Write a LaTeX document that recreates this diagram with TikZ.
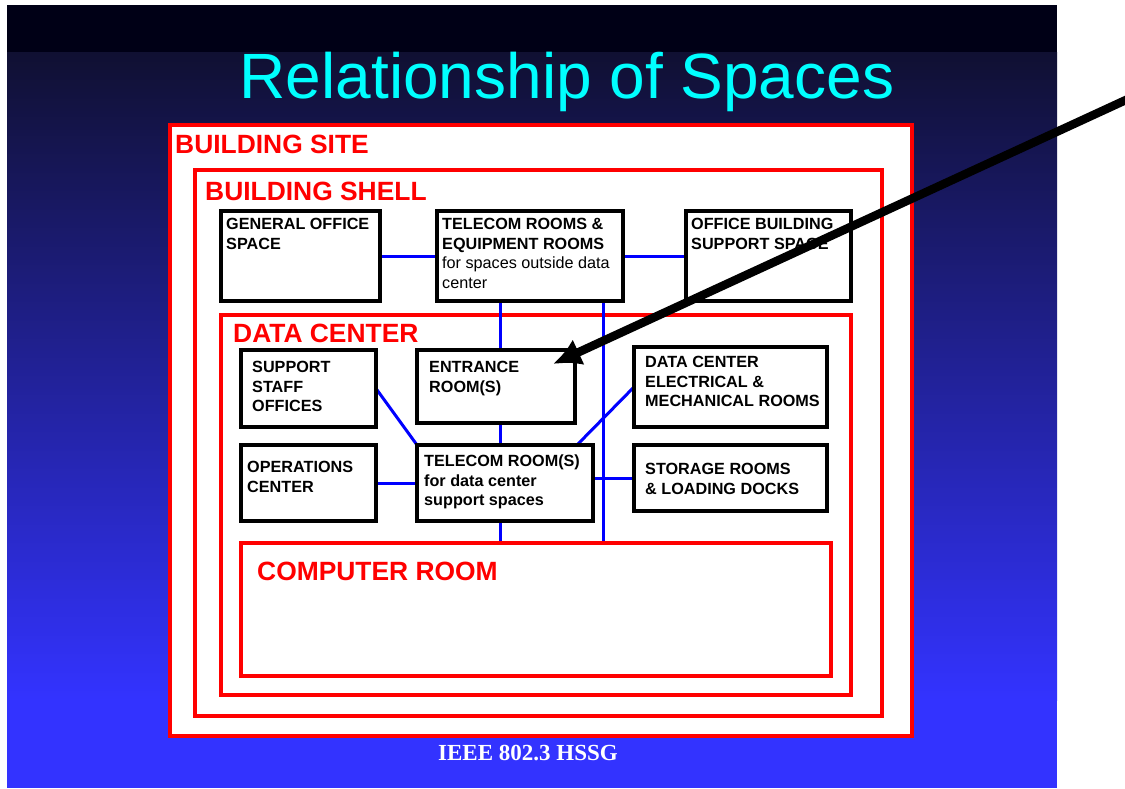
\documentclass[tikz,border=0pt]{standalone}
\usepackage{fontspec}
\setmainfont{Liberation Sans}
\newfontfamily\timesf{Liberation Serif}
\usetikzlibrary{arrows.meta,calc}
\pgfdeclarelayer{back}
\pgfdeclarelayer{mid}
\pgfsetlayers{back,mid,main}
\definecolor{topband}{RGB}{0,0,22}
\definecolor{gradtop}{RGB}{16,16,50}
\definecolor{gradmid}{RGB}{34,34,165}
\definecolor{gradbot}{RGB}{51,51,255}
\definecolor{ttl}{RGB}{0,255,255}
\begin{document}
\begin{tikzpicture}[x=1pt,y=-1pt,
  redbox/.style={draw=red,line width=4pt,fill=white,inner sep=0pt,outer sep=0pt,anchor=north west},
  blkbox/.style={draw=black,line width=3.5pt,fill=white,inner sep=0pt,outer sep=0pt,anchor=north west},
  link/.style={draw=blue,line width=3pt},
  lbl/.style={anchor=north west,inner sep=0pt,align=left,font=\fontsize{16.2}{19.5}\selectfont\bfseries},
  rlbl/.style={anchor=north west,inner sep=0pt,text=red,font=\fontsize{26.4}{30}\selectfont\bfseries},
  pointer/.style={draw=black,line width=8.5pt,-{Latex[length=28pt,width=28pt]}}]
\useasboundingbox (0,0) rectangle (1125,788);
\begin{pgfonlayer}{back}
  \fill[white] (0,0) rectangle (1125,788);
  \fill[topband] (7,5) rectangle (1057,52);
  \shade[top color=gradtop,middle color=gradmid,bottom color=gradbot] (7,52) rectangle (1057,700);
  \fill[gradbot] (7,700) rectangle (1057,788);
  \node[redbox,minimum width=742pt,minimum height=611pt] (site) at (170,125) {};
  \node[redbox,minimum width=687pt,minimum height=546pt] (shell) at (195,170) {};
  \node[redbox,minimum width=630pt,minimum height=380pt] (dc) at (221,315) {};
\end{pgfonlayer}
% title and footer
\node[anchor=base,inner sep=0pt,text=ttl,font=\fontsize{64}{70}\selectfont] (title) at (567,98) {Relationship of Spaces};
\node[anchor=base,inner sep=0pt,text=white,font=\timesf\bfseries\fontsize{23}{26}\selectfont] (foot) at (528,760) {IEEE 802.3 HSSG};
% computer room
\node[redbox,minimum width=590pt,minimum height=133pt] (cr) at (241,543) {};
% black boxes
\node[blkbox,minimum width=159pt,minimum height=90pt] (gos) at (221,211) {};
\node[blkbox,minimum width=186pt,minimum height=90pt] (tel) at (437,211) {};
\node[blkbox,minimum width=165pt,minimum height=90pt] (obs) at (686,211) {};
\node[blkbox,minimum width=135pt,minimum height=77pt] (sso) at (241,350) {};
\node[blkbox,minimum width=158pt,minimum height=73pt] (ent) at (417,350) {};
\node[blkbox,minimum width=193pt,minimum height=80pt] (dce) at (634,347) {};
\node[blkbox,minimum width=135pt,minimum height=76pt] (ops) at (241,445) {};
\node[blkbox,minimum width=176pt,minimum height=76pt] (trs) at (417,445) {};
\node[blkbox,minimum width=193pt,minimum height=66pt] (sto) at (634,445) {};
% red labels
\node[rlbl] (sitel) at (175,135) {BUILDING SITE};
\node[rlbl] (shelll) at (205,182) {BUILDING SHELL};
\node[rlbl] (dcl) at (233,324) {DATA CENTER};
\node[rlbl] (crl) at (257,562) {COMPUTER ROOM};
% box labels
\node[lbl] (gosl) at (226,218) {GENERAL OFFICE\\SPACE};
\node[lbl] (tell) at (442,218) {TELECOM ROOMS \&\\EQUIPMENT ROOMS\\{\mdseries for spaces outside data}\\{\mdseries center}};
\node[lbl] (obsl) at (691,218) {OFFICE BUILDING\\SUPPORT SPACE};
\node[lbl] (ssol) at (252,361) {SUPPORT\\STAFF\\OFFICES};
\node[lbl] (entl) at (429,361) {ENTRANCE\\ROOM(S)};
\node[lbl] (dcel) at (645,356) {DATA CENTER\\ELECTRICAL \&\\MECHANICAL ROOMS};
\node[lbl] (opsl) at (247,461) {OPERATIONS\\CENTER};
\node[lbl] (trsl) at (424,455) {TELECOM ROOM(S)\\for data center\\support spaces};
\node[lbl] (stol) at (645,463) {STORAGE ROOMS\\\& LOADING DOCKS};
% links
\coordinate (va) at (500,0);
\coordinate (vb) at (603,0);
\begin{pgfonlayer}{mid}
  \draw[link] (gos.east) -- (tel.west);
  \draw[link] (tel.east) -- (obs.west);
  \draw[link] (tel.south -| va) -- (ent.north -| va);
  \draw[link] (ent.south -| va) -- (trs.north -| va);
  \draw[link] (trs.south -| va) -- (cr.north -| va);
  \draw[link] (tel.south -| vb) -- (cr.north -| vb);
  \draw[link] (sso.east) -- (trs.north west);
  \draw[link] (ops.east) -- (trs.west);
  \draw[link] (sto.west -| trs.east) -- (sto.west);
  \draw[link] ([xshift=-16pt]trs.north east) -- (dce.west);
\end{pgfonlayer}
% pointer arrow
\coordinate (astart) at (1128,99);
\coordinate (atip) at (553,364);
\draw[pointer] (astart) -- (atip);
\end{tikzpicture}
\end{document}
